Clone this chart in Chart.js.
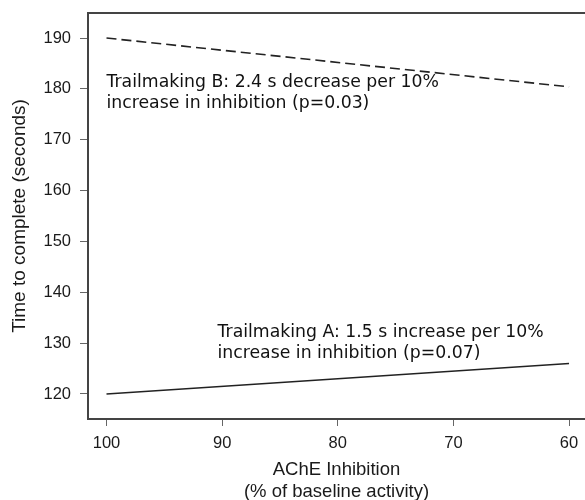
<!DOCTYPE html>
<html><head><meta charset="utf-8">
<script src="https://cdn.jsdelivr.net/npm/chart.js@4.4.0/dist/chart.umd.min.js"></script>
<style>html,body{margin:0;padding:0;background:#fff;}canvas{display:block;}</style>
</head><body>
<canvas id="c" width="585" height="500"></canvas>
<script>
// ---- data ----
const inhibitionPct = [100, 60];
const trailmakingA = [120, 126];
const trailmakingB = [190, 180.4];
const xTicks = [100, 90, 80, 70, 60];
const yTicks = [120, 130, 140, 150, 160, 170, 180, 190];
const noteB = ["Trailmaking B: 2.4 s decrease per 10%", "increase in inhibition (p=0.03)"];
const noteA = ["Trailmaking A: 1.5 s increase per 10%", "increase in inhibition (p=0.07)"];
const xTitle = ["AChE Inhibition", "(% of baseline activity)"];
const yTitle = "Time to complete (seconds)";

const toPts = (xs, ys) => xs.map((v, i) => ({x: v, y: ys[i]}));

const notesPlugin = {
  id: 'notes',
  afterDatasetsDraw(chart, args, opts) {
    const {ctx, scales: {x, y}} = chart;
    ctx.save();
    ctx.font = '17.3px "DejaVu Sans"';
    ctx.fillStyle = '#111';
    ctx.textAlign = 'left';
    ctx.textBaseline = 'alphabetic';
    opts.items.forEach(it => {
      const px = x.getPixelForValue(it.x), py = y.getPixelForValue(it.y);
      it.lines.forEach((l, i) => ctx.fillText(l, px, py + i * 21));
    });
    ctx.restore();
  }
};

const axisColor = '#444';
const textColor = '#1a1a1a';
const tickFont = {family: '"Liberation Sans", Arial, sans-serif', size: 16.5};
const noPad = s => { s.paddingTop = 0; s.paddingBottom = 0; s.paddingLeft = 0; s.paddingRight = 0; };

new Chart(document.getElementById('c'), {
  type: 'line',
  data: {
    datasets: [
      {label: 'Trailmaking B', data: toPts(inhibitionPct, trailmakingB), borderColor: '#222', borderWidth: 1.6, borderDash: [10, 5], pointRadius: 0, fill: false, tension: 0},
      {label: 'Trailmaking A', data: toPts(inhibitionPct, trailmakingA), borderColor: '#222', borderWidth: 1.6, pointRadius: 0, fill: false, tension: 0}
    ]
  },
  options: {
    responsive: false,
    animation: false,
    devicePixelRatio: 1,
    layout: {padding: 0},
    plugins: {
      legend: {display: false},
      tooltip: {enabled: false},
      notes: {items: [
        {x: 100, y: 180.3, lines: noteB},
        {x: 90.4, y: 131.15, lines: noteA}
      ]}
    },
    scales: {
      x: {
        type: 'linear', position: 'bottom', reverse: true,
        min: 58.62, max: 101.6,
        afterBuildTicks: s => { s.ticks = xTicks.map(v => ({value: v})); },
        afterFit: s => { s.height = 81; noPad(s); },
        grid: {display: true, drawOnChartArea: false, drawTicks: true, tickLength: 7, color: '#666', lineWidth: 1},
        border: {display: true, color: axisColor, width: 2},
        ticks: {font: tickFont, color: textColor, padding: 8, maxRotation: 0, autoSkip: false},
        title: {display: true, text: xTitle, color: textColor, font: {family: '"Liberation Sans", Arial, sans-serif', size: 18.5, lineHeight: 1.2}, padding: {top: 0, bottom: -3}}
      },
      x2: {
        type: 'linear', position: 'top', display: true,
        afterFit: s => { s.height = 13; noPad(s); },
        grid: {display: false},
        ticks: {display: false},
        border: {display: true, color: axisColor, width: 2}
      },
      y: {
        type: 'linear', position: 'left',
        min: 115.08, max: 194.92,
        afterBuildTicks: s => { s.ticks = yTicks.map(v => ({value: v})); },
        afterFit: s => { s.width = 88; noPad(s); },
        grid: {display: true, drawOnChartArea: false, drawTicks: true, tickLength: 8, color: '#666', lineWidth: 1},
        border: {display: true, color: axisColor, width: 2},
        ticks: {font: tickFont, color: textColor, padding: 9},
        title: {display: true, text: yTitle, color: textColor, font: {family: '"Liberation Sans", Arial, sans-serif', size: 19, lineHeight: 1.2}, padding: {top: 8, bottom: 0}}
      }
    }
  },
  plugins: [notesPlugin]
});
</script>
</body></html>
